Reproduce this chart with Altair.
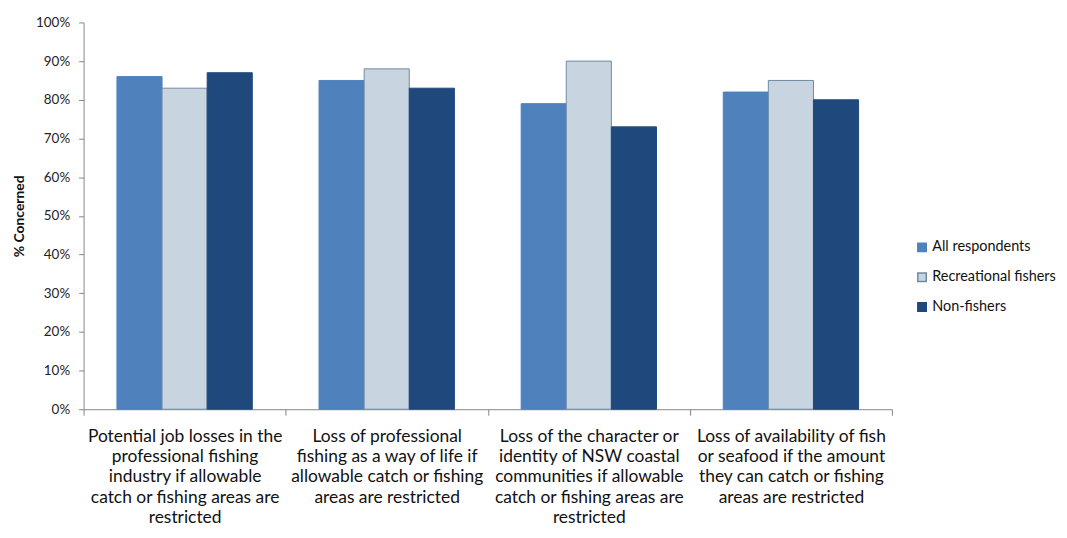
import altair as alt
import pandas as pd

categories = [
    "Potential job losses in the|professional fishing|industry if allowable|catch or fishing areas are|restricted",
    "Loss of professional|fishing as a way of life if|allowable catch or fishing|areas are restricted",
    "Loss of the character or|identity of NSW coastal|communities if allowable|catch or fishing areas are|restricted",
    "Loss of availability of fish|or seafood if the amount|they can catch or fishing|areas are restricted",
]
series = ["All respondents", "Recreational fishers", "Non-fishers"]
all_respondents = [86, 85, 79, 82]
recreational = [83, 88, 90, 85]
non_fishers = [87, 83, 73, 80]
y_ticks = [0, 10, 20, 30, 40, 50, 60, 70, 80, 90, 100]

fills = ["#4F81BD", "#C8D4DF", "#1F497D"]
strokes = ["#4F81BD", "#6F8AA3", "#1F497D"]

rows = []
for i, c in enumerate(categories):
    for s, vals in zip(series, [all_respondents, recreational, non_fishers]):
        rows.append({"category": c, "series": s, "value": vals[i]})
df = pd.DataFrame(rows)

FONT = "Lato"

legend_cfg = dict(
    title=None,
    orient="none",
    legendX=836,
    legendY=219,
    symbolType="square",
    symbolSize=72,
    labelFont=FONT,
    labelFontSize=14.5,
    labelColor="#111111",
    rowPadding=14,
    labelOffset=3,
    labelLimit=200,
)

chart = alt.Chart(df).mark_bar(strokeWidth=1).encode(
    x=alt.X(
        "category:N",
        sort=categories,
        scale=alt.Scale(paddingInner=0, paddingOuter=0),
        axis=alt.Axis(
            title=None,
            labelExpr="split(datum.label, '|')",
            labelAngle=0,
            labelFont=FONT,
            labelFontSize=17.5,
            labelColor="#111111",
            labelLineHeight=20.5,
            labelPadding=12,
            labelLimit=300,
            tickBand="extent",
            tickSize=6,
            tickColor="#868686",
            domainColor="#868686",
        ),
    ),
    xOffset=alt.XOffset("series:N", sort=series,
                        scale=alt.Scale(paddingInner=0, paddingOuter=0.74)),
    y=alt.Y(
        "value:Q",
        scale=alt.Scale(domain=[0, 100], nice=False),
        axis=alt.Axis(
            title="% Concerned",
            titleFont=FONT,
            titleFontSize=14,
            titleFontWeight="bold",
            titleColor="#111111",
            titlePadding=9,
            values=y_ticks,
            labelExpr="datum.value + '%'",
            labelFont=FONT,
            labelFontSize=13.5,
            labelColor="#222222",
            labelPadding=9,
            tickSize=5,
            tickColor="#868686",
            domainColor="#868686",
            grid=False,
        ),
    ),
    fill=alt.Fill(
        "series:N",
        sort=series,
        scale=alt.Scale(domain=series, range=fills),
        legend=alt.Legend(**legend_cfg),
    ),
    stroke=alt.Stroke(
        "series:N",
        sort=series,
        scale=alt.Scale(domain=series, range=strokes),
        legend=alt.Legend(**legend_cfg),
    ),
).properties(
    width=813,
    height=389,
    padding={"left": 76, "top": 13, "right": 168, "bottom": 130},
    autosize=alt.AutoSizeParams(type="none"),
    background="white",
).configure_view(stroke=None)

chart.save("out.html", embed_options={"renderer": "svg", "actions": False})
